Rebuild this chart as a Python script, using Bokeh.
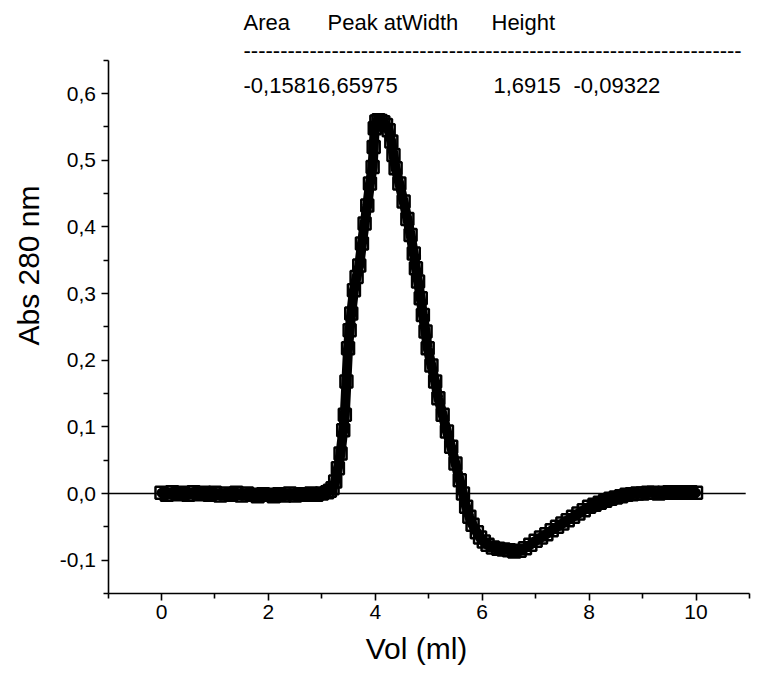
from bokeh.plotting import figure
from bokeh.models import FixedTicker, Label, Range1d, LinearAxis
from bokeh.embed import file_html
from bokeh.resources import INLINE

# ---- data ----
vol_ml = [0.0, 0.1, 0.2, 0.3, 0.4, 0.5, 0.6, 0.7, 0.8, 0.9, 1.0, 1.1, 1.2, 1.3, 1.4, 1.5,
          1.6, 1.7, 1.8, 1.9, 2.0, 2.1, 2.2, 2.3, 2.4, 2.5, 2.6, 2.7, 2.8, 2.9, 3.0, 3.1,
          3.15, 3.2, 3.25, 3.3, 3.35, 3.4, 3.43, 3.46, 3.49, 3.52, 3.55, 3.6, 3.65, 3.7,
          3.75, 3.8, 3.85, 3.9, 3.95, 3.97, 3.99, 4.02, 4.06, 4.1, 4.15, 4.2, 4.25, 4.3,
          4.34, 4.38, 4.45, 4.53, 4.6, 4.66, 4.72, 4.76, 4.8, 4.85, 4.89, 4.94, 4.98, 5.05,
          5.12, 5.18, 5.26, 5.34, 5.42, 5.5, 5.58, 5.64, 5.7, 5.76, 5.82, 5.9, 5.96, 6.03,
          6.1, 6.2, 6.3, 6.4, 6.5, 6.6, 6.7, 6.8, 6.9, 7.0, 7.1, 7.2, 7.3, 7.4, 7.5, 7.6,
          7.7, 7.8, 7.9, 8.0, 8.1, 8.2, 8.3, 8.4, 8.5, 8.6, 8.7, 8.8, 8.9, 9.0, 9.1, 9.2,
          9.3, 9.4, 9.5, 9.6, 9.7, 9.8, 9.9, 10.0]
abs_280 = [0.001, -0.002, 0.002, -0.001, 0.001, -0.002, 0.002, -0.001, 0.001, -0.002,
           0.001, -0.003, 0.000, -0.002, 0.001, -0.003, 0.000, -0.002, -0.004, -0.001,
           -0.002, -0.004, -0.001, -0.003, 0.000, -0.003, -0.001, -0.002, 0.000, -0.002,
           0.000, 0.002, 0.004, 0.008, 0.018, 0.038, 0.060, 0.095, 0.118, 0.168, 0.218,
           0.245, 0.270, 0.305, 0.325, 0.342, 0.375, 0.405, 0.432, 0.465, 0.490, 0.520,
           0.548, 0.558, 0.560, 0.559, 0.557, 0.553, 0.545, 0.528, 0.508, 0.488, 0.465,
           0.438, 0.412, 0.388, 0.360, 0.338, 0.318, 0.293, 0.268, 0.243, 0.218, 0.192,
           0.168, 0.143, 0.118, 0.093, 0.070, 0.045, 0.020, 0.000, -0.020, -0.035, -0.047,
           -0.058, -0.066, -0.072, -0.077, -0.081, -0.083, -0.084, -0.085, -0.087, -0.086,
           -0.082, -0.077, -0.071, -0.066, -0.061, -0.055, -0.050, -0.045, -0.040, -0.035,
           -0.030, -0.025, -0.020, -0.017, -0.014, -0.011, -0.008, -0.006, -0.004, -0.002,
           -0.001, 0.000, 0.000, 0.001, 0.001, 0.000, 0.001, 0.002, 0.001, 0.002, 0.001,
           0.002, 0.001]

x_axis_limits = (-1, 11)
y_axis_limits = (-0.15, 0.65)
x_ticks = [0, 2, 4, 6, 8, 10]
x_minor = [-1, 1, 3, 5, 7, 9, 11]
x_tick_labels = ["0", "2", "4", "6", "8", "10"]
y_ticks = [-0.1, 0.0, 0.1, 0.2, 0.3, 0.4, 0.5, 0.6]
y_minor = [-0.15, -0.05, 0.05, 0.15, 0.25, 0.35, 0.45, 0.55, 0.65]
y_tick_labels = ["-0,1", "0,0", "0,1", "0,2", "0,3", "0,4", "0,5", "0,6"]
zero_line_x = [-1, 10.93]
zero_line_y = [0, 0]

x_title = "Vol (ml)"
y_title = "Abs 280 nm"
header_row1 = [("Area", 243), ("Peak atWidth", 327), ("Height", 491)]
header_dashes = "-" * 68
header_row3 = [("-0,15816,65975", 243), ("1,6915", 493), ("-0,09322", 573)]

FONT = "Liberation Sans"

# canvas geometry (pixels) -> data ranges so that the whole canvas is the frame
W, H = 752, 676
X0_PX, PX_PER_X = 161.0, 53.45     # pixel of x=0, pixels per ml
Y0_PX, PX_PER_Y = 493.0, 666.5     # pixel of y=0, pixels per absorbance unit


def dx(px):
    return (px - X0_PX) / PX_PER_X


def dy(py):
    return (Y0_PX - py) / PX_PER_Y


p = figure(width=W, height=H, output_backend="svg", toolbar_location=None,
           x_range=Range1d(dx(0), dx(W)), y_range=Range1d(dy(H), dy(0)),
           x_axis_type=None, y_axis_type=None, min_border=0,
           min_border_left=0, min_border_right=0, min_border_top=0, min_border_bottom=0)
p.outline_line_color = None
p.grid.visible = False
p.background_fill_color = "white"

xaxis = LinearAxis(fixed_location=y_axis_limits[0], bounds=x_axis_limits)
yaxis = LinearAxis(fixed_location=x_axis_limits[0], bounds=y_axis_limits)
p.add_layout(xaxis, "below")
p.add_layout(yaxis, "left")

for ax, tk, mn, labs in ((xaxis, x_ticks, x_minor, x_tick_labels),
                         (yaxis, y_ticks, y_minor, y_tick_labels)):
    ax.ticker = FixedTicker(ticks=tk, minor_ticks=mn)
    ax.major_label_overrides = {t: l for t, l in zip(tk, labs)}
    ax.axis_line_width = 1.6
    ax.major_tick_line_width = 1.6
    ax.minor_tick_line_width = 1.6
    ax.major_tick_in = 0
    ax.major_tick_out = 7
    ax.minor_tick_in = 0
    ax.minor_tick_out = 5
    ax.major_label_text_font = FONT
    ax.major_label_text_font_size = "21px"
    ax.major_label_text_color = "black"
    ax.axis_line_color = "black"
    ax.major_tick_line_color = "black"
    ax.minor_tick_line_color = "black"
xaxis.major_label_standoff = 5
yaxis.major_label_standoff = 5

# zero reference line
p.line(zero_line_x, zero_line_y, line_color="black", line_width=1.6)

# data: dense open squares merging into a thick band
p.line(vol_ml, abs_280, line_color="black", line_width=10, line_join="round", line_cap="round")
p.scatter(vol_ml, abs_280, marker="square", size=12, fill_color=None,
          line_color="black", line_width=2.5)

p.add_layout(Label(x=dx(416), y=dy(648), text=x_title, text_font=FONT, text_font_size="30px",
                   text_align="center", text_baseline="middle", text_color="black"))
p.add_layout(Label(x=dx(28), y=dy(265), text=y_title, text_font=FONT, text_font_size="30px",
                   text_align="center", text_baseline="middle", angle=1.5708, text_color="black"))
for t, px in header_row1:
    p.add_layout(Label(x=dx(px), y=dy(22), text=t, text_font=FONT, text_font_size="22px",
                       text_align="left", text_baseline="middle", text_color="black"))
p.add_layout(Label(x=dx(243), y=dy(50), text=header_dashes, text_font=FONT, text_font_size="22px",
                   text_align="left", text_baseline="middle", text_color="black"))
for t, px in header_row3:
    p.add_layout(Label(x=dx(px), y=dy(85), text=t, text_font=FONT, text_font_size="22px",
                       text_align="left", text_baseline="middle", text_color="black"))

open("out.html", "w").write(file_html(p, INLINE))
